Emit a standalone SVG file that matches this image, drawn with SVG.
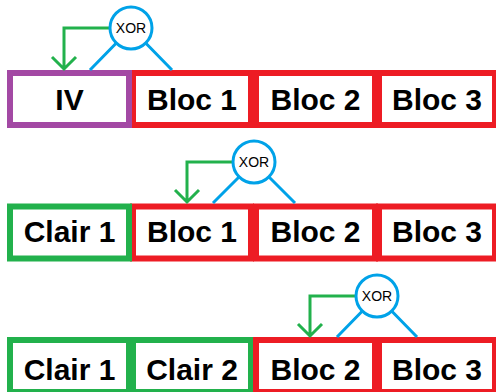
<svg xmlns="http://www.w3.org/2000/svg" width="496" height="392" viewBox="0 0 496 392">
<style>
.box{fill:#fff;stroke-width:6}
.red{stroke:#ED1C24}.grn{stroke:#22B14C}.pur{stroke:#A349A4}
.lbl{font-family:"Liberation Sans",Arial,sans-serif;font-weight:bold;font-size:30px;text-anchor:middle;fill:#000}
.xor{fill:#fff;stroke:#00A2E8;stroke-width:3}
.xt{font-family:"Liberation Sans",Arial,sans-serif;font-size:14px;text-anchor:middle;fill:#000}
.bl{stroke:#00A2E8;stroke-width:3;fill:none}
.gl{stroke:#22B14C;stroke-width:3;fill:none}
</style>
<rect width="496" height="392" fill="#fff"/>
<g id="row1">
  <g id="r1b2"><rect class="box red" x="133" y="73" width="118" height="52"/><text class="lbl" x="192" y="110">Bloc 1</text></g>
  <g id="r1b1"><rect class="box pur" x="10" y="73" width="119" height="52"/><text class="lbl" x="69.5" y="110">IV</text></g>
  <g id="r1b3"><rect class="box red" x="256" y="73" width="119" height="52"/><text class="lbl" x="315.5" y="110">Bloc 2</text></g>
  <g id="r1b4"><rect class="box red" x="379" y="73" width="116" height="52"/><text class="lbl" x="437" y="110">Bloc 3</text></g>
</g>
<g id="row2">
  <g id="r2b2"><rect class="box red" x="133" y="206.5" width="118" height="52"/><text class="lbl" x="192" y="242">Bloc 1</text></g>
  <g id="r2b1"><rect class="box grn" x="10" y="206.5" width="119" height="52"/><text class="lbl" x="69.5" y="242">Clair 1</text></g>
  <g id="r2b3"><rect class="box red" x="256" y="206.5" width="119" height="52"/><text class="lbl" x="315.5" y="242">Bloc 2</text></g>
  <g id="r2b4"><rect class="box red" x="379" y="206.5" width="116" height="52"/><text class="lbl" x="437" y="242">Bloc 3</text></g>
</g>
<g id="row3">
  <g id="r3b2"><rect class="box grn" x="133" y="340" width="118" height="52"/><text class="lbl" x="192" y="380">Clair 2</text></g>
  <g id="r3b1"><rect class="box grn" x="10" y="340" width="119" height="52"/><text class="lbl" x="69.5" y="380">Clair 1</text></g>
  <g id="r3b3"><rect class="box red" x="256" y="340" width="119" height="52"/><text class="lbl" x="315.5" y="380">Bloc 2</text></g>
  <g id="r3b4"><rect class="box red" x="379" y="340" width="116" height="52"/><text class="lbl" x="437" y="380">Bloc 3</text></g>
</g>
<g id="connectors">
  <path class="bl" d="M131,28 L90,70 M131,28 L172,70"/>
  <path class="gl" d="M112,28 H64 V69 M52,57 L64,69 L76,57"/>
  <path class="bl" d="M254,162 L213,203 M254,162 L295,203"/>
  <path class="gl" d="M235,162 H187 V202 M175,190 L187,202 L199,190"/>
  <path class="bl" d="M377,296 L337,337 M377,296 L417,337"/>
  <path class="gl" d="M358,296 H310 V336 M298,324 L310,336 L322,324"/>
</g>
<g id="xor1"><circle class="xor" cx="131" cy="28" r="21"/><text class="xt" x="131" y="33">XOR</text></g>
<g id="xor2"><circle class="xor" cx="254" cy="162" r="21"/><text class="xt" x="254" y="167">XOR</text></g>
<g id="xor3"><circle class="xor" cx="377" cy="296" r="21"/><text class="xt" x="377" y="301">XOR</text></g>
</svg>
